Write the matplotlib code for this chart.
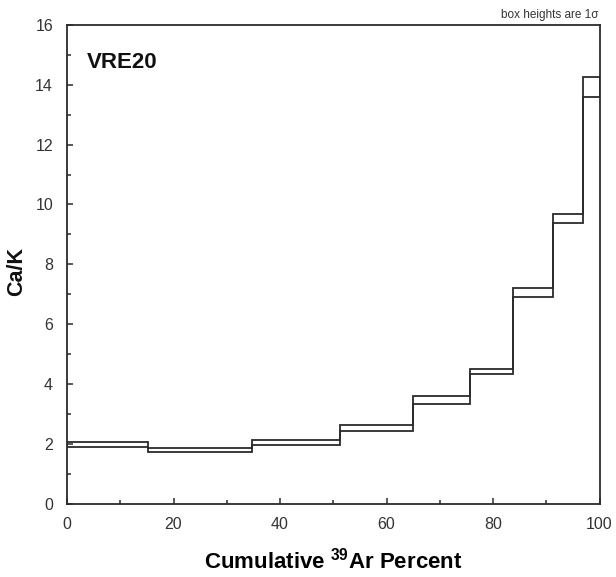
import matplotlib
matplotlib.use("Agg")
import matplotlib.pyplot as plt
from matplotlib.ticker import MultipleLocator

# Data: cumulative 39Ar step edges and Ca/K box bounds (1 sigma)
step_edges = [0, 15.3, 34.7, 51.3, 65.0, 75.6, 83.8, 91.3, 96.9, 100]
cak_high = [2.05, 1.84, 2.13, 2.64, 3.59, 4.49, 7.19, 9.67, 14.25]
cak_low = [1.89, 1.71, 1.96, 2.42, 3.34, 4.32, 6.89, 9.39, 13.60]
sample_name = "VRE20"
x_ticks = [0, 20, 40, 60, 80, 100]
y_ticks = [0, 2, 4, 6, 8, 10, 12, 14, 16]

plt.rcParams['font.family'] = ['Liberation Sans', 'DejaVu Sans']
plt.rcParams['mathtext.fontset'] = 'custom'
plt.rcParams['mathtext.rm'] = 'Liberation Sans'
plt.rcParams['mathtext.bf'] = 'Liberation Sans:bold'

line_col = '#2b2b2b'
fig = plt.figure(figsize=(6.16, 5.77), dpi=100)
ax = fig.add_axes([67 / 616, (577 - 503.5) / 577, 532.5 / 616, 478.5 / 577])

ax.stairs(cak_high, step_edges, baseline=None, color=line_col, lw=1.3)
ax.stairs(cak_low, step_edges, baseline=None, color=line_col, lw=1.3)
ax.vlines([step_edges[0], step_edges[-1]], [cak_low[0], cak_low[-1]],
          [cak_high[0], cak_high[-1]], color=line_col, lw=1.3)

ax.set_xlim(0, 100)
ax.set_ylim(0, 16)
ax.set_xticks(x_ticks)
ax.set_yticks(y_ticks)
ax.xaxis.set_minor_locator(MultipleLocator(10))
ax.yaxis.set_minor_locator(MultipleLocator(1))
ax.tick_params(which='both', direction='in', top=False, right=False,
               color=line_col, width=1.1, labelsize=11.5, labelcolor='#333333')
ax.tick_params(which='major', length=4, pad=10)
ax.tick_params(which='minor', length=3)
for s in ax.spines.values():
    s.set_color(line_col)
    s.set_linewidth(1.3)

ax.set_xlabel(r'Cumulative $^{\mathbf{39}}$Ar Percent', fontsize=16, fontweight='bold',
              labelpad=11)
fig.text(17 / 616, 1 - 272 / 577, 'Ca/K', rotation=90, fontsize=15.5,
         fontweight='bold', ha='center', va='center', color='#111111')

ax.text(0.038, 0.91, sample_name, transform=ax.transAxes, fontsize=16,
        fontweight='bold', ha='left', va='baseline', color='#111111')
ax.annotate('box heights are 1σ', xy=(1, 1), xycoords='axes fraction',
            xytext=(-1, 3), textcoords='offset points', ha='right', va='bottom',
            fontsize=8.5, color='#333333')

fig.savefig('out.png', dpi=100)
